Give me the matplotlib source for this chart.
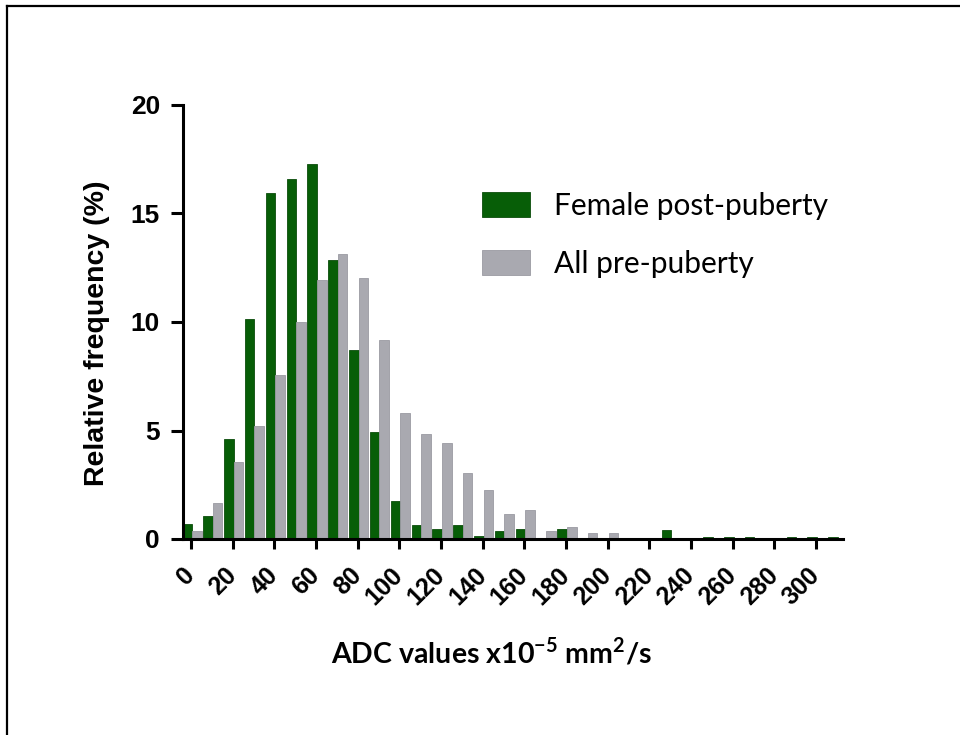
import matplotlib
matplotlib.use("Agg")
import matplotlib.pyplot as plt
from matplotlib.lines import Line2D
import numpy as np

# ADC histogram bins (x10^-5 mm^2/s), bin width 10
bins = list(range(0, 320, 10))

female_post = [0.67, 1.05, 4.62, 10.16, 15.94, 16.61, 17.3, 12.85, 8.7, 4.92,
               1.75, 0.66, 0.47, 0.66, 0.16, 0.36, 0.47, 0.0, 0.47, 0.0,
               0.0, 0.0, 0.0, 0.4, 0.0, 0.1, 0.1, 0.1, 0.0, 0.1,
               0.1, 0.1]

all_pre = [0.35, 1.65, 3.53, 5.22, 7.57, 9.98, 11.94, 13.12, 12.05, 9.19,
           5.81, 4.82, 4.44, 3.05, 2.28, 1.17, 1.35, 0.35, 0.56, 0.28,
           0.28, 0.0, 0.0, 0.0, 0.0, 0.0, 0.0, 0.0, 0.0, 0.0,
           0.0, 0.0]

x_ticks = list(range(0, 301, 20))
y_ticks = [0, 5, 10, 15, 20]

series_names = ["Female post-puberty", "All pre-puberty"]

plt.rcParams["mathtext.fontset"] = "custom"
plt.rcParams["mathtext.bf"] = "Lato:bold"
plt.rcParams["mathtext.rm"] = "Lato:bold"

fig = plt.figure(figsize=(9.6, 7.35), dpi=100)
W, H = 960, 735
ax = fig.add_axes([183 / W, 1 - 539 / H, (843 - 183) / W, (539 - 105) / H])

green = "#075e07"
grey = "#a9a9b0"
bw = 4.6
x = np.array(bins, dtype=float)
ax.bar(x - 1.8, female_post, width=bw, color=green, edgecolor="#0b4d0b",
       linewidth=0.6, label=series_names[0], zorder=2)
ax.bar(x + 2.8, all_pre, width=bw, color=grey, edgecolor="#9a9aa2",
       linewidth=0.6, label=series_names[1], zorder=2)

ax.set_xlim(-3.8, 313)
ax.set_ylim(0, 20)

for s in ["top", "right"]:
    ax.spines[s].set_visible(False)
for s in ["left", "bottom"]:
    ax.spines[s].set_linewidth(2.2)
    ax.spines[s].set_color("black")
    ax.spines[s].set_zorder(3)

ax.set_xticks(x_ticks)
ax.set_yticks(y_ticks)
ax.set_yticklabels([str(v) for v in y_ticks], fontsize=19, fontweight="bold",
                   family="Liberation Sans")
ax.set_xticklabels([str(v) for v in x_ticks], fontsize=18, fontweight="bold",
                   family="Liberation Sans", rotation=45, ha="right",
                   va="center", rotation_mode="anchor")
ax.tick_params(axis="x", length=7.5, width=2.2, pad=16, direction="out")
ax.tick_params(axis="y", length=8.5, width=2.2, pad=8, direction="out")

ax.set_ylabel("Relative frequency (%)", fontsize=20.5, fontweight="bold",
              family="Liberation Sans")
ax.yaxis.set_label_coords(-(183 - 110) / 660, (539 - 333) / 434)

fig.text(492 / W, 1 - 652 / H,
         r"ADC values x10$^{\mathbf{-5}}$ mm$^{\mathbf{2}}$/s",
         fontsize=20.5, fontweight="bold", family="Lato",
         ha="center", va="center")

leg = ax.legend(loc="upper left",
                bbox_to_anchor=((482 - 183) / 660, (539 - 192) / 434),
                frameon=False, prop={"family": "Lato", "size": 21.5},
                handlelength=1.6, handleheight=0.9, handletextpad=0.8,
                labelspacing=1.0, borderpad=0.0, borderaxespad=0.0)

# outer frame
fig.add_artist(Line2D([7 / W, 7 / W], [0, 1 - 6 / H], color="black", lw=1.6))
fig.add_artist(Line2D([7 / W, 1], [1 - 6 / H, 1 - 6 / H], color="black", lw=1.6))

fig.savefig("out.png", dpi=100)
